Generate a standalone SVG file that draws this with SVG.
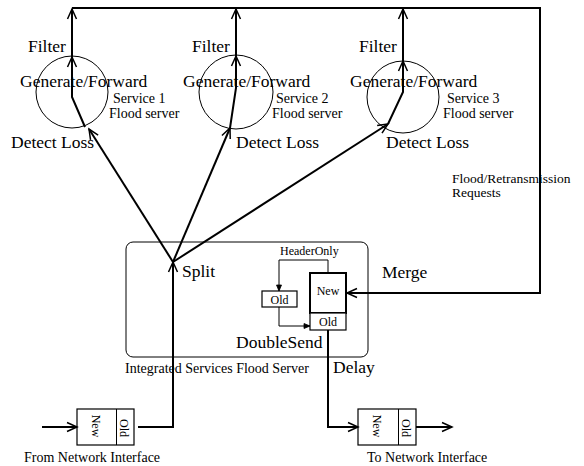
<svg xmlns="http://www.w3.org/2000/svg" width="584" height="466" viewBox="0 0 584 466">
<style>
text{font-family:"Liberation Serif","Times New Roman",serif;fill:#000}
.L{font-size:17.5px}
.S{font-size:14px}
.R{font-size:13.5px}
.T{font-size:12px}
.thick{fill:none;stroke:#000;stroke-width:2}
.thin{fill:none;stroke:#000;stroke-width:1}
.box{fill:#fff;stroke:#000;stroke-width:1.2}
</style>
<defs>
<marker id="a" markerUnits="userSpaceOnUse" markerWidth="14" markerHeight="12" viewBox="0 0 14 12" refX="11" refY="6" orient="auto">
<path d="M1,1.5 L11,6 L1,10.5" fill="none" stroke="#000" stroke-width="1.5"/>
</marker>
<marker id="s" markerUnits="userSpaceOnUse" markerWidth="8" markerHeight="8" viewBox="0 0 8 8" refX="7" refY="4" orient="auto">
<path d="M1,1.5 L7,4 L1,6.5 Z" fill="#000" stroke="#000" stroke-width="0.8"/>
</marker>
</defs>

<g id="service1">
<circle class="thin" cx="72" cy="92" r="36"/>
<text class="L" x="28" y="52">Filter</text>
<text class="L" x="20" y="87">Generate/Forward</text>
<text class="S" x="113" y="103">Service 1</text>
<text class="S" x="109" y="118">Flood server</text>
<text class="L" x="11" y="148">Detect Loss</text>
</g>
<g id="service2">
<circle class="thin" cx="236" cy="92" r="37"/>
<text class="L" x="192" y="52">Filter</text>
<text class="L" x="183" y="87">Generate/Forward</text>
<text class="S" x="276" y="103">Service 2</text>
<text class="S" x="272" y="118">Flood server</text>
<text class="L" x="236" y="148">Detect Loss</text>
</g>
<g id="service3">
<circle class="thin" cx="403" cy="97" r="36"/>
<text class="L" x="359" y="52">Filter</text>
<text class="L" x="350" y="87">Generate/Forward</text>
<text class="S" x="447" y="103">Service 3</text>
<text class="S" x="443" y="118">Flood server</text>
<text class="L" x="386" y="148">Detect Loss</text>
</g>

<g id="isfs">
<rect class="thin" x="126" y="242" width="242" height="115" rx="7"/>
<text class="L" x="182" y="277">Split</text>
<text class="T" x="280" y="255">HeaderOnly</text>
<rect class="box" x="262" y="291" width="35" height="16"/>
<text class="T" x="279.5" y="304" text-anchor="middle">Old</text>
<rect x="310" y="273" width="36" height="40" fill="#fff" stroke="#000" stroke-width="2"/>
<text class="T" x="328" y="295" text-anchor="middle">New</text>
<rect class="box" x="310" y="313" width="36" height="17"/>
<text class="T" x="328" y="326" text-anchor="middle">Old</text>
<text class="L" x="236" y="348">DoubleSend</text>
<text class="S" x="125" y="373">Integrated Services Flood Server</text>
</g>

<g id="fromIf">
<rect class="box" x="77" y="409" width="57" height="36"/>
<line class="thin" x1="116.5" y1="409" x2="116.5" y2="445"/>
<text class="T" transform="translate(96,426) rotate(90)" text-anchor="middle" dy="0.35em">New</text>
<text class="T" transform="translate(124,428) rotate(90)" text-anchor="middle" dy="0.35em">Old</text>
<text class="S" x="24" y="462">From Network Interface</text>
</g>
<g id="toIf">
<rect class="box" x="358" y="409" width="58" height="36"/>
<line class="thin" x1="398.5" y1="409" x2="398.5" y2="445"/>
<text class="T" transform="translate(377,426) rotate(90)" text-anchor="middle" dy="0.35em">New</text>
<text class="T" transform="translate(406,428) rotate(90)" text-anchor="middle" dy="0.35em">Old</text>
<text class="S" x="367" y="462">To Network Interface</text>
</g>

<g id="labels">
<text class="R" x="452" y="183">Flood/Retransmission</text>
<text class="R" x="452" y="197">Requests</text>
<text class="L" x="382" y="278">Merge</text>
<text class="L" x="333" y="373">Delay</text>
</g>

<g id="connectors">
<path class="thick" d="M42,427 L77,427" marker-end="url(#a)"/>
<path class="thick" d="M138,427 L173,427 L173,262" marker-end="url(#a)"/>
<path class="thick" d="M173,262 L89,129" marker-end="url(#a)"/>
<path class="thick" d="M173,262 L230,128" marker-end="url(#a)"/>
<path class="thick" d="M173,262 L388,124" marker-end="url(#a)"/>
<path class="thick" d="M85,127 L72,97 L72,57" marker-end="url(#a)"/>
<path class="thick" d="M72,57 L72,9" marker-end="url(#a)"/>
<path class="thick" d="M230,128 L236,88 L236,56" marker-end="url(#a)"/>
<path class="thick" d="M236,56 L236,9" marker-end="url(#a)"/>
<path class="thick" d="M388,124 L403,92 L403,61" marker-end="url(#a)"/>
<path class="thick" d="M403,61 L403,9" marker-end="url(#a)"/>
<path class="thick" d="M72,8 L540,8 L540,293 L347,293" marker-end="url(#a)"/>
<path class="thin" d="M328,273 L328,260 L279,260 L279,291" marker-end="url(#s)"/>
<path class="thin" d="M279,307 L279,326 L310,326" marker-end="url(#s)"/>
<path class="thick" d="M328,330 L328,427 L358,427" marker-end="url(#a)"/>
<path class="thick" d="M416,427 L452,427" marker-end="url(#a)"/>
</g>
</svg>
